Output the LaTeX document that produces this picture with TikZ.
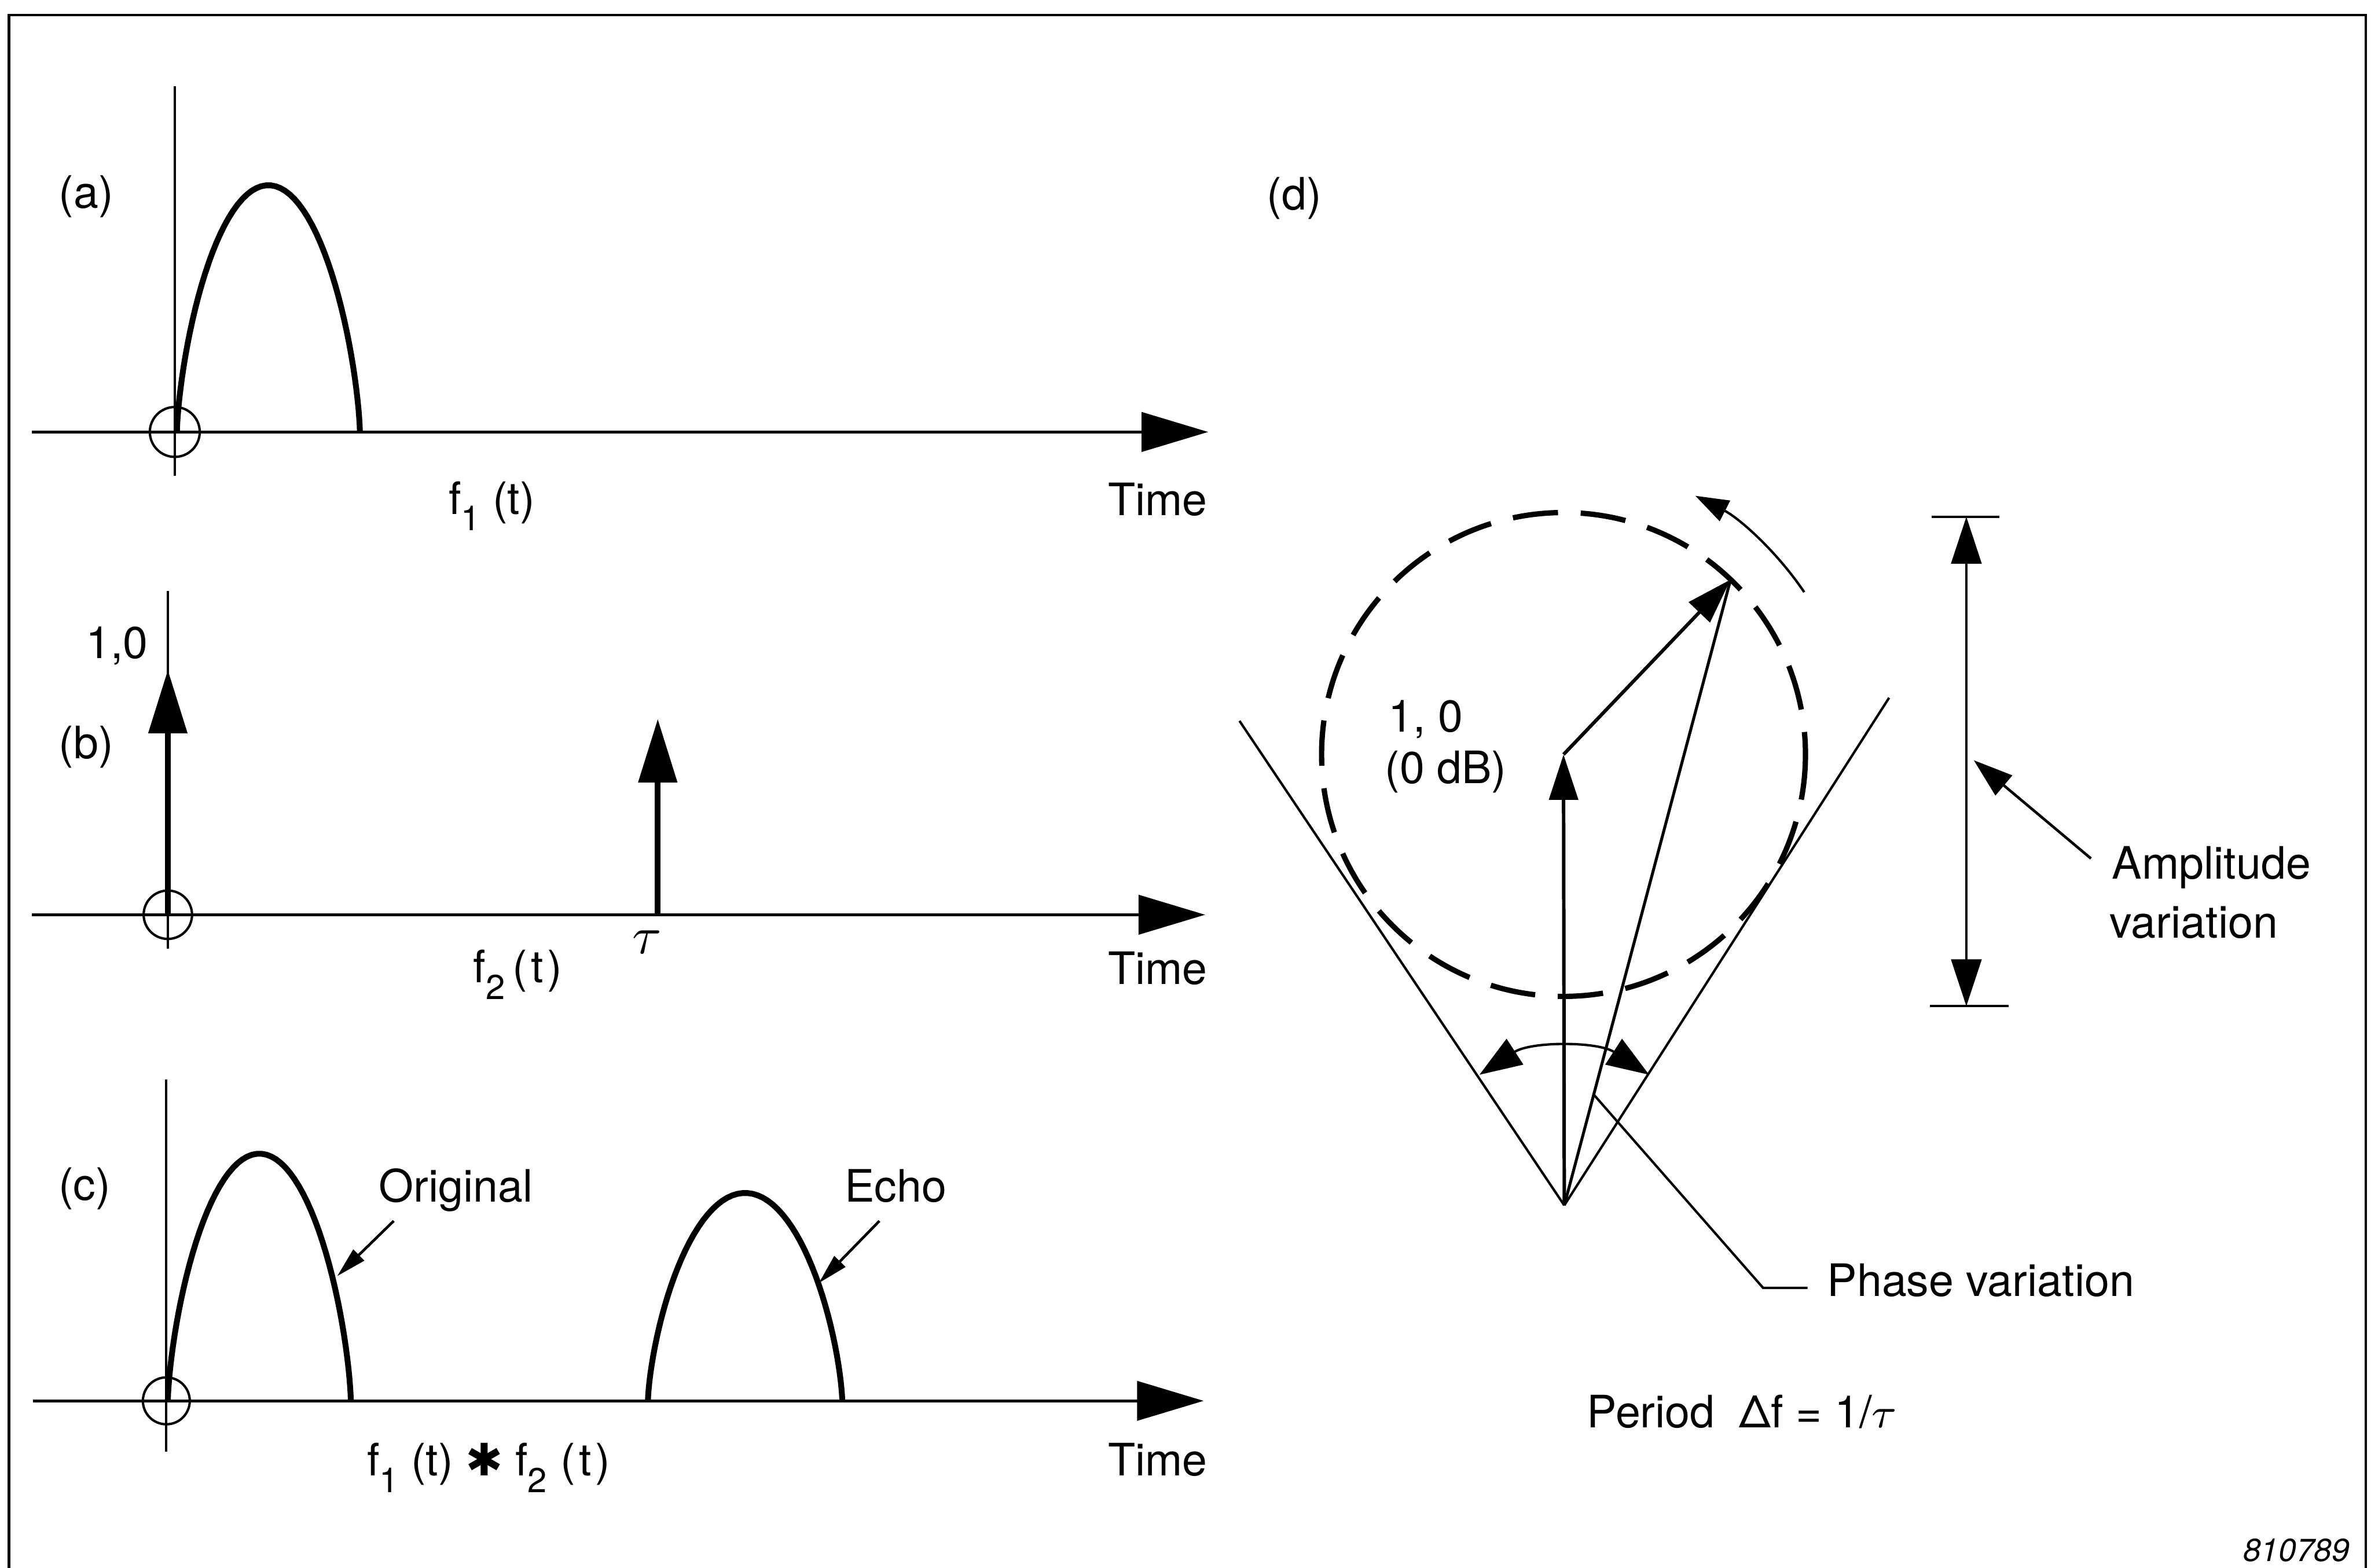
\documentclass[tikz,border=0pt]{standalone}
\usepackage{fontspec}
\setmainfont{TeX Gyre Heros}
\newfontfamily\symfont{DejaVu Sans}
\usetikzlibrary{calc,arrows.meta}

\newcommand{\lowidx}[1]{\raisebox{-3.1pt}{\fontsize{6.5}{7}\selectfont #1}}
\newcommand{\argt}{(\kern0.7pt t\kern0.7pt)}
% one echo pulse: left foot, right foot, height, base line
\newcommand{\drawpulse}[4]{%
  \draw[pulse] (#1,#4) -- plot[domain=1:179,samples=60]
    ({#1+(#2-#1)*(1-cos(\x))/2},{#4-#3*sin(\x)^1.36}) -- (#2,#4);}

\tikzset{
  txt/.style={inner sep=0pt,font=\fontsize{8.4}{10}\selectfont},
  axis/.style={line width=0.5pt,-{Triangle[length=0.44cm,width=0.26cm]}},
  thinline/.style={line width=0.45pt},
  pulse/.style={line width=1.1pt},
  impulse/.style={line width=1.1pt,-{Triangle[length=0.42cm,width=0.25cm]}},
  pointer/.style={line width=0.5pt,-{Triangle[length=0.2cm,width=0.1cm]}},
  callout/.style={line width=0.5pt,-{Triangle[length=0.26cm,width=0.17cm]}},
  phasor/.style={line width=0.65pt,-{Triangle[length=0.3cm,width=0.19cm]}},
  dimline/.style={line width=0.45pt,{Triangle[length=0.31cm,width=0.2cm]}-{Triangle[length=0.31cm,width=0.2cm]}},
  dashcircle/.style={line width=1pt,dash pattern=on 0.3cm off 0.15cm},
}

\begin{document}
\begin{tikzpicture}[x=0.01cm,y=-0.01cm]
\useasboundingbox (0,0) rectangle (1568,1037);
% frame
\draw[line width=0.5pt] (6,1037) -- (6,10) -- (1564.5,10) -- (1564.5,1037);

% (a) original pulse
\coordinate (oa) at (115.6,285.7);
\coordinate (xa0) at (21,285.7);
\coordinate (xa1) at (799,285.7);
\coordinate (ya0) at (115.6,57);
\coordinate (ya1) at (115.6,314.5);
\draw[axis] (xa0) -- (xa1);
\draw[thinline] (ya0) -- (ya1);
\draw[thinline] (oa) circle[radius=16.5];
\drawpulse{117}{238}{163.2}{285.7}
\node[txt] (la) at (57,130) {(a)};
\node[txt,anchor=base west] (fa) at (296,340) {f\lowidx{1} (t)};
\node[txt,anchor=base west] (timea) at (732,341) {Time};

% (b) impulses
\coordinate (ob) at (111,605);
\coordinate (xb0) at (21,605);
\coordinate (xb1) at (797,605);
\coordinate (yb0) at (111,391);
\coordinate (yb1) at (111,627.5);
\coordinate (db) at (111,443);
\coordinate (eb0) at (435,605);
\coordinate (eb1) at (435,475.5);
\draw[axis] (xb0) -- (xb1);
\draw[thinline] (yb0) -- (yb1);
\draw[thinline] (ob) circle[radius=16];
\draw[impulse] (ob) -- (db);
\draw[impulse] (eb0) -- (eb1);
\node[txt,anchor=base west] (oneb) at (56,435.4) {1,0};
\node[txt] (lb) at (57,494) {(b)};
\node[inner sep=0pt] (taub) at (428,623) {$\tau$};
\node[txt,anchor=base west] (fb) at (312.4,650) {f\lowidx{2}\hspace{1.4pt}\argt};
\node[txt,anchor=base west] (timeb) at (732,651) {Time};

% (c) convolution
\coordinate (oc) at (110,926.5);
\coordinate (xc0) at (22,926.5);
\coordinate (xc1) at (796,926.5);
\coordinate (yc0) at (110,714);
\coordinate (yc1) at (110,960);
\draw[axis] (xc0) -- (xc1);
\draw[thinline] (yc0) -- (yc1);
\draw[thinline] (oc) circle[radius=15.5];
\drawpulse{111}{232}{163.5}{926.5}
\drawpulse{428.5}{557}{137.5}{926.5}
\node[txt] (lc) at (56,786) {(c)};
\node[txt,anchor=base west] (orig) at (250,795) {Original};
\node[txt,anchor=base west] (echo) at (558,795) {Echo};
\coordinate (origfoot) at (260.4,807.5);
\coordinate (origtip) at (223,844);
\coordinate (echofoot) at (581.6,807.5);
\coordinate (echotip) at (541.5,848.6);
\draw[pointer] (origfoot) -- (origtip);
\draw[pointer] (echofoot) -- (echotip);
\node[txt,anchor=base west] (fc) at (242,976)
  {f\lowidx{1} (t) {\symfont ✱} f\lowidx{2}\hspace{2.5pt}\argt};
\node[txt,anchor=base west] (timec) at (732,976) {Time};

% (d) phasor diagram
\node[txt] (ld) at (856,131) {(d)};
\coordinate (A) at (1034.5,797.2);
\coordinate (C) at (1034,499);
\coordinate (E) at (1144.5,383.3);
\coordinate (L) at (819.7,476.8);
\coordinate (R) at (1249.3,461.5);
\draw[dashcircle] (C) circle[radius=160];
\draw[thinline] (A) -- (L);
\draw[thinline] (A) -- (R);
\draw[phasor] (A) -- (C);
\draw[phasor] (C) -- (E);
\draw[line width=0.55pt] (A) -- (E);
\draw[thinline,{Triangle[length=0.28cm,width=0.2cm]}-{Triangle[length=0.28cm,width=0.2cm]}]
  ($(A)+(-57:103)$) arc[start angle=-57,end angle=-123,radius=103];
\draw[thinline,-{Triangle[length=0.22cm,width=0.15cm]}]
  ($(C)+(-34:192)$) arc[start angle=-34,end angle=-63,radius=192];
\node[txt,anchor=base west] (one) at (917.4,484.2) {1, 0};
\node[txt,anchor=base west] (zerodb) at (915.2,518) {(0 dB)};

% phase variation leader
\coordinate (P) at ($(A)!0.177!(E)$);
\coordinate (Pk) at (1166,851.8);
\coordinate (Pe) at (1195.4,851.8);
\draw[thinline] (P) -- (Pk) -- (Pe);
\node[txt,anchor=base west] (phase) at (1207.7,857.4) {Phase variation};

% amplitude variation
\coordinate (At) at (1300.4,341.8);
\coordinate (Ab) at (1300.4,665.5);
\draw[thinline] ($(At)+(-23,0)$) -- ($(At)+(22,0)$);
\draw[thinline] ($(Ab)+(-24,0)$) -- ($(Ab)+(28,0)$);
\draw[dimline] (At) -- (Ab);
\node[txt,anchor=base west] (amp) at (1396,581.4) {Amplitude};
\node[txt,anchor=base west] (var) at (1394.6,620.5) {variation};
\coordinate (ampfoot) at (1382.8,567.8);
\coordinate (amptip) at (1305.3,502.8);
\draw[callout] (ampfoot) -- (amptip);

\node[txt,anchor=base west] (period) at (1048.9,944.3) {Period\hspace{0.55em}Δf = 1/$\tau$};
\node[inner sep=0pt,anchor=base east,font=\fontsize{6}{7}\selectfont\itshape] (fig) at (1554.6,1032.6) {810789};
\end{tikzpicture}
\end{document}
